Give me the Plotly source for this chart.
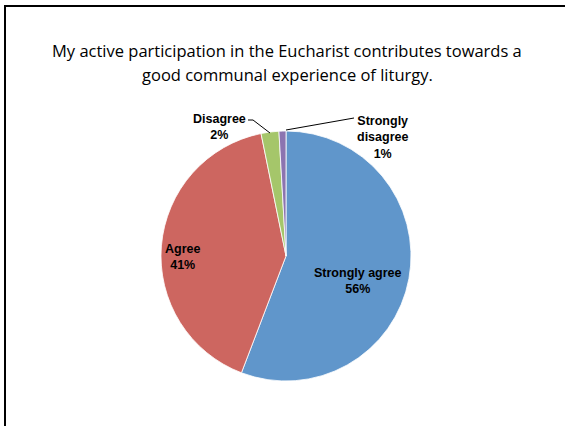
import plotly.graph_objects as go

categories = ["Strongly agree", "Agree", "Disagree", "Strongly disagree"]
values = [55.8, 41.0, 2.3, 0.9]
pct_labels = ["56%", "41%", "2%", "1%"]
colors = ["#6096CB", "#CD6660", "#A5C66A", "#8C74B0"]
title_lines = ["My active participation in the Eucharist contributes towards a",
               "good communal experience of liturgy."]

W, H = 565, 426
LBL_FONT = dict(family="Liberation Sans", size=12.5, color="black")
TTL_FONT = dict(family="Open Sans", size=16.5, color="black")

def px(x):
    return x / W

def py(y):
    return 1 - y / H

fig = go.Figure(go.Pie(
    labels=categories,
    values=values,
    sort=False,
    direction="clockwise",
    rotation=0,
    textinfo="none",
    marker=dict(colors=colors, line=dict(color="white", width=0.8)),
    domain=dict(x=[px(161), px(411)], y=[py(381), py(131)]),
    showlegend=False,
    hoverinfo="label+percent",
))

def label(x, y, text, font):
    fig.add_annotation(xref="paper", yref="paper", x=px(x), y=py(y),
                       xanchor="center", yanchor="middle",
                       text=text, showarrow=False, font=font)

# title lines
label(287, 50, title_lines[0], TTL_FONT)
label(287, 74, title_lines[1], TTL_FONT)

# inside labels
label(358, 281, f"<b>{categories[0]}<br>{pct_labels[0]}</b>", LBL_FONT)
label(182, 257, f"<b>{categories[1]}<br>{pct_labels[1]}</b>", LBL_FONT)
# outside labels
label(219, 127, f"<b>{categories[2]}<br>{pct_labels[2]}</b>", LBL_FONT)
label(382, 137, f"<b>Strongly<br>disagree<br>{pct_labels[3]}</b>", LBL_FONT)

# leader lines
fig.add_shape(type="path", xref="paper", yref="paper",
              path=f"M {px(248)} {py(120)} L {px(253)} {py(120)} L {px(270)} {py(133)}",
              line=dict(color="black", width=1))
fig.add_shape(type="line", xref="paper", yref="paper",
              x0=px(286), y0=py(130), x1=px(354), y1=py(118),
              line=dict(color="black", width=1))

# border
fig.add_shape(type="rect", xref="paper", yref="paper",
              x0=px(5), x1=1.1, y0=-0.1, y1=py(6),
              line=dict(color="black", width=2))

fig.update_layout(
    width=W, height=H,
    margin=dict(l=0, r=0, t=0, b=0),
    paper_bgcolor="white", plot_bgcolor="white",
)

fig.write_html("out.html", config={"displayModeBar": False},
               post_script="document.body.style.margin='0';")
